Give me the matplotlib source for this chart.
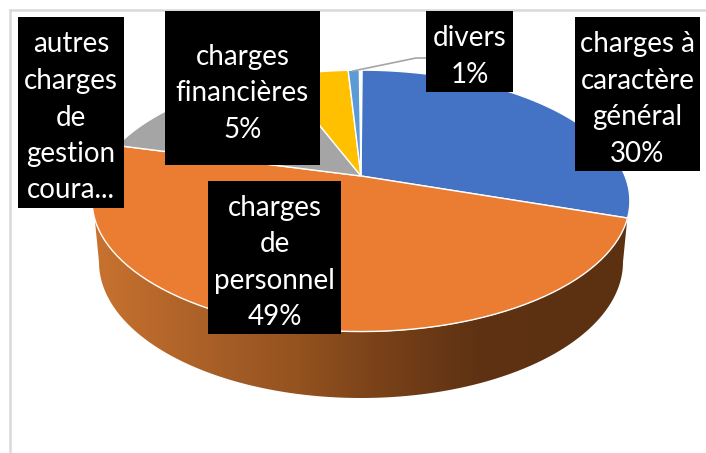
import numpy as np
import matplotlib
matplotlib.use('Agg')
import matplotlib.pyplot as plt
from matplotlib.colors import LinearSegmentedColormap
from matplotlib.patches import Polygon, Rectangle

plt.rcParams['font.family'] = ['Lato', 'DejaVu Sans']

# clockwise from 12 o'clock
categories = ['charges à\ncaractère\ngénéral', 'charges\nde\npersonnel',
              'autres\ncharges\nde\ngestion\ncoura...', 'charges\nfinancières', 'divers']
values = [30, 49, 15, 5, 0.8]
pct_labels = ['30%', '49%', '', '5%', '1%']
colors = ['#4472C4', '#EB7D32', '#A5A5A5', '#FFC000', '#5B9BD5']

# label boxes in pixels: left, top, right, bottom
boxes = [(575, 17, 700, 171), (208, 181, 341, 334), (18, 17, 124, 208),
         (165, 11, 320, 165), (426, 11, 513, 92)]

CX, CY = 361, 176
R, A, K = 264, 126, 0.19


def project(theta):
    # circle seen in perspective, so the apex sits above the ellipse centre
    u, v = np.cos(theta), np.sin(theta)
    s = 1 / (1 + K * v)
    return CX + R * u * s, CY - A * v * s


fig = plt.figure(figsize=(7.06, 4.53), dpi=100)
ax = fig.add_axes([0, 0, 1, 1])
ax.axis('off')

# side wall with the horizontal shading
t = np.linspace(np.pi, 2 * np.pi, 200)
top_x, top_y = 361 + 268 * np.cos(t), 201 - 131 * np.sin(t)
low_x, low_y = 361 + 262 * np.cos(t), 262 - 136 * np.sin(t)
wall = np.vstack([np.column_stack([top_x, top_y]),
                  np.column_stack([low_x, low_y])[::-1]])
cmap = LinearSegmentedColormap.from_list('wall', [
    (0.0, '#C8722F'), (0.28, '#A05A25'), (0.38, '#94531F'),
    (0.53, '#7A4219'), (0.72, '#5E3213'), (1.0, '#5B3112')])
grad = ax.imshow(np.linspace(0, 1, 300).reshape(1, -1), cmap=cmap, aspect='auto',
                 extent=(93, 629, 400, 190), zorder=1)
clip = Polygon(wall, closed=True, transform=ax.transData)
grad.set_clip_path(clip)

# top face
start = np.pi / 2 - 0.005
cum = np.concatenate([[0], np.cumsum(values)])
for i, c in enumerate(colors):
    th = start - 2 * np.pi * np.linspace(cum[i], cum[i + 1], 80) / 100
    x, y = project(th)
    ax.fill(np.r_[CX, x], np.r_[CY, y], facecolor=c, edgecolor='white', lw=1, zorder=2)

# leader line for divers
ax.plot([353, 416, 426], [71, 58, 58], color='#A5A5A5', lw=1.2, zorder=3)

for cat, pct, (l, t_, r, b) in zip(categories, pct_labels, boxes):
    ax.add_patch(Rectangle((l, t_), r - l, b - t_, facecolor='black', edgecolor='none', zorder=4))
    txt = cat + ('\n' + pct if pct else '')
    ax.text((l + r) / 2, (t_ + b) / 2 + 5, txt, color='white', fontsize=20, ha='center',
            va='center', linespacing=1.5, zorder=5)

# chart frame
ax.plot([10, 10], [453, 10], color='#D9D9D9', lw=1.8, zorder=0)
ax.plot([10, 706], [10, 10], color='#D9D9D9', lw=1.8, zorder=0)

ax.set_xlim(0, 706)
ax.set_ylim(453, 0)
fig.savefig('out.png', dpi=100)
plt.close()
